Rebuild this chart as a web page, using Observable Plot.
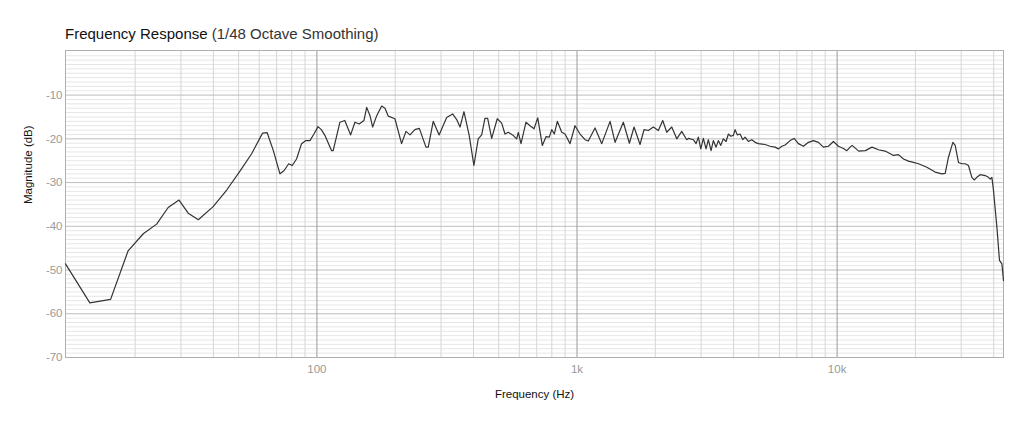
<!DOCTYPE html>
<html>
<head>
<meta charset="utf-8">
<script src="https://cdn.jsdelivr.net/npm/d3@7"></script>
<script src="https://cdn.jsdelivr.net/npm/@observablehq/plot@0.6"></script>
<style>
  html, body { margin: 0; padding: 0; background: #fff; }
  #wrap { position: relative; width: 1024px; height: 427px; }
  #title { position: absolute; left: 65px; top: 25px; font-family: "Liberation Sans", Arial, sans-serif; font-size: 15px; color: #111; white-space: nowrap; }
  #title .sub { color: #333; font-weight: 300; }
</style>
</head>
<body>
<div id="wrap">
  <div id="title"><span id="t1"></span> <span class="sub" id="t2"></span></div>
</div>
<script>
const titleText = "Frequency Response";
const subtitleText = "(1/48 Octave Smoothing)";
const xLabel = "Frequency (Hz)";
const yLabel = "Magnitude (dB)";

const xTickValues = [100, 1000, 10000];
const xTickLabels = ["100", "1k", "10k"];
const yTickValues = [-10, -20, -30, -40, -50, -60, -70];

const freqs = [
  10.8, 13.4, 16.1, 18.8, 21.5, 24.2, 26.8, 29.5, 32, 35, 39.9, 45, 50.6, 56.1, 61.8, 64.4,
  68, 72.1, 74.7, 77.9, 80.4, 83.5, 87.3, 90.7, 94, 97.4, 101, 104, 107.3, 113.9, 115.5,
  122.6, 128, 134.8, 140, 145.4, 151.7, 155.4, 160, 163.8, 169.8, 177.4, 182.7, 188, 199.5,
  211.6, 220, 228, 238, 247.6, 262.6, 268, 280, 295, 315.4, 332.5, 344.6, 355, 367.6, 385,
  401.4, 417, 430, 442.6, 453.4, 469.8, 493.6, 513.3, 528.5, 544.2, 565.6, 586.2, 594.7,
  609.1, 636.7, 659.7, 683.5, 706.3, 735.6, 760.1, 782.6, 799.4, 818, 840, 873.5, 899.3,
  940, 982.4, 1027, 1074, 1105, 1173, 1245, 1340, 1401, 1507, 1590, 1657, 1747, 1810,
  1880, 1966, 2054, 2136, 2213, 2313, 2418, 2527, 2642, 2679, 2801, 2869, 2928, 2991,
  3060, 3134, 3199, 3276, 3343, 3424, 3495, 3570, 3653, 3742, 3819, 3902, 3992, 4053,
  4136, 4236, 4338, 4428, 4559, 4699, 4838, 4982, 5285, 5525, 5776, 5947, 6130, 6310,
  6597, 6832, 7099, 7421, 7757, 8108, 8476, 8859, 9260, 9678, 10116, 10573, 10897, 11220,
  11420, 12110, 12840, 13620, 14410, 15300, 16470, 17210, 17990, 18810, 19660, 20550,
  22130, 23820, 25280, 26030, 26800, 27860, 28440, 29280, 30180, 31080, 31990, 32960,
  33640, 34450, 35480, 37090, 38190, 38770, 39360, 39920, 41140, 42100, 43010, 43620
];
const magnitudes = [
  -48.6, -57.5, -56.7, -45.6, -41.7, -39.5, -35.7, -34.0, -37.0, -38.5, -35.5, -31.7, -27.4, -23.4, -18.7, -18.6,
  -22.7, -28.0, -27.3, -25.7, -26.1, -24.6, -21.1, -20.4, -20.4, -18.9, -17.2, -17.9, -19.2, -22.7, -22.7,
  -16.2, -15.8, -19.1, -16.2, -16.6, -15.8, -12.8, -14.7, -17.3, -14.7, -12.5, -13.0, -14.8, -15.4,
  -21.1, -18.3, -19.1, -17.9, -17.6, -21.9, -21.9, -16.0, -19.1, -15.1, -14.3, -15.6, -17.3, -13.8, -19.2,
  -26.1, -20.0, -19.1, -15.3, -15.3, -19.9, -15.4, -16.4, -18.9, -18.5, -19.1, -20.0, -18.5,
  -21.1, -16.2, -17.0, -17.7, -15.2, -21.5, -19.5, -19.6, -17.9, -18.9, -16.0, -18.5, -18.9,
  -21.1, -17.0, -18.9, -20.2, -20.5, -17.5, -21.1, -16.0, -20.8, -16.2, -21.0, -17.3, -21.3, -17.9,
  -18.1, -17.3, -18.1, -15.8, -18.5, -17.3, -20.0, -18.3, -20.2, -19.9, -20.2, -21.1, -19.6, -22.3,
  -19.9, -22.3, -20.2, -22.7, -20.4, -21.9, -20.4, -21.5, -20.0, -20.6, -18.9, -19.4, -19.2, -17.9,
  -19.1, -18.9, -20.2, -19.6, -20.6, -20.2, -20.8, -21.1, -21.3, -21.7, -21.9, -22.3, -21.7, -21.4,
  -20.4, -19.9, -21.1, -21.7, -20.8, -20.4, -20.8, -21.9, -21.7, -20.6, -21.7, -22.2, -22.7, -21.9,
  -21.5, -22.8, -22.7, -21.9, -22.5, -22.8, -23.8, -23.6, -24.6, -25.1, -25.4, -25.7,
  -26.5, -27.6, -28.0, -27.9, -24.2, -20.8, -21.5, -25.4, -25.7, -25.7, -26.1, -28.8,
  -29.4, -28.8, -28.2, -28.4, -28.8, -29.2, -28.8, -31.8, -40.2, -47.8, -48.6, -52.4
];

document.getElementById("t1").textContent = titleText;
document.getElementById("t2").textContent = subtitleText;

const data = freqs.map((f, i) => ({ f, m: magnitudes[i] }));

// grid positions (log decades and 1 dB steps)
const minorX = [];
for (const d of [10, 100, 1000, 10000]) for (let k = 1; k <= 9; k++) {
  const v = d * k;
  if (v > 10.8 && v < 43620 && !xTickValues.includes(v)) minorX.push(v);
}
const minorY = d3.range(-69, 0, 1).filter(v => v % 10 !== 0);
const majorY = [-10, -20, -30, -40, -50, -60];

const chart = Plot.plot({
  width: 1024,
  height: 427,
  marginTop: 50,
  marginBottom: 70,
  marginLeft: 65,
  marginRight: 21,
  style: { fontFamily: "'Liberation Sans', Arial, sans-serif", fontSize: "11.5px", background: "#fff" },
  x: { type: "log", domain: [10.8, 43620] },
  y: { domain: [-70, 0.2] },
  marks: [
    Plot.ruleY(minorY, { stroke: "#e6e6e6", strokeWidth: 1 }),
    Plot.ruleX(minorX, { stroke: "#d6d6d6", strokeWidth: 1 }),
    Plot.ruleY(majorY, { stroke: "#bdbdbd", strokeWidth: 1 }),
    Plot.ruleX(xTickValues, { stroke: "#9a9a9a", strokeWidth: 1 }),
    Plot.frame({ stroke: "#b0b0b0" }),
    Plot.axisY({ ticks: yTickValues, tickSize: 0, tickPadding: 3, tickFormat: d => String(d), color: "#999", label: null }),
    Plot.axisX({ ticks: xTickValues, tickSize: 0, tickPadding: 7, tickFormat: d => xTickLabels[xTickValues.indexOf(d)], color: "#999", label: null }),
    Plot.text([yLabel], { frameAnchor: "left", dx: -37, rotate: -90, fill: "#111", fontSize: 11.5 }),
    Plot.text([xLabel], { frameAnchor: "bottom", dy: 40, fill: "#111", fontSize: 11.5 }),
    Plot.line(data, { x: "f", y: "m", stroke: "#333", strokeWidth: 1.2 })
  ]
});
document.getElementById("wrap").appendChild(chart);
</script>
</body>
</html>
